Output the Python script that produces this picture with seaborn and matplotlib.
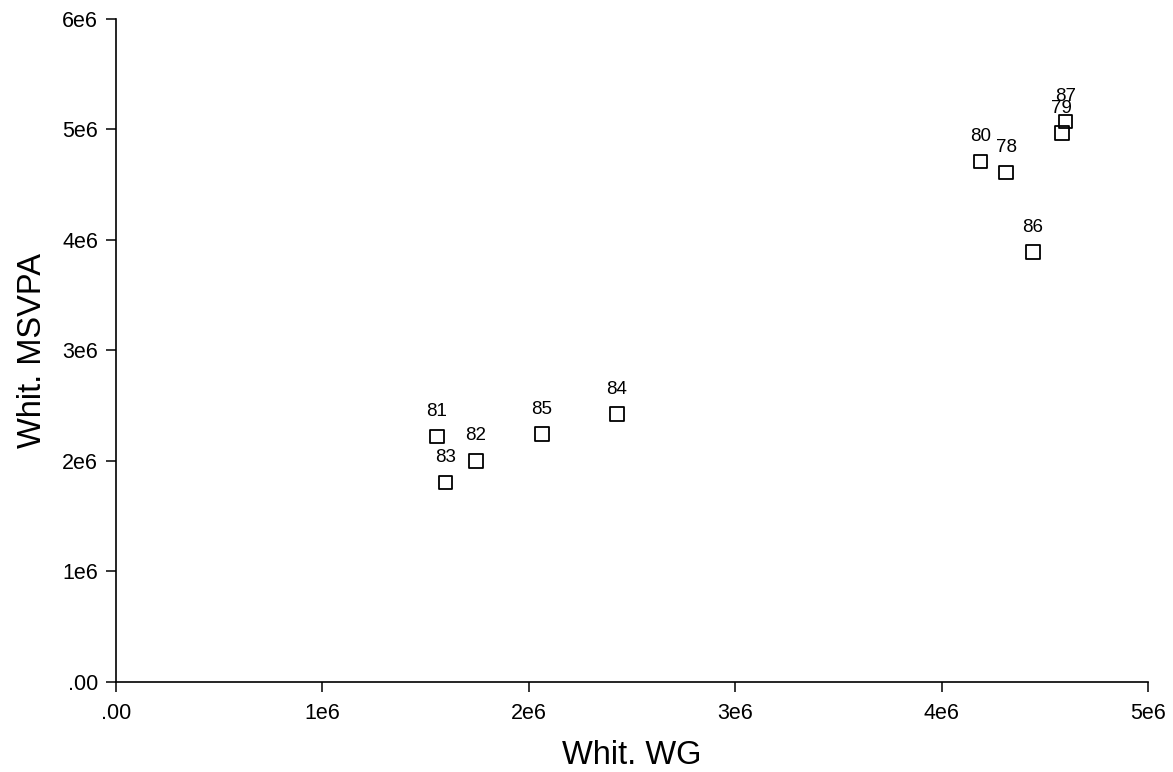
import numpy as np
import pandas as pd
import matplotlib
matplotlib.use("Agg")
import matplotlib.pyplot as plt
import seaborn as sns

# Whitney estimates: WG vs MSVPA, by year
years = ["81", "82", "83", "85", "84", "80", "78", "87", "79", "86"]
whit_wg = [1.554e6, 1.744e6, 1.597e6, 2.064e6, 2.427e6,
           4.189e6, 4.313e6, 4.601e6, 4.582e6, 4.443e6]
whit_msvpa = [2.220e6, 2.000e6, 1.807e6, 2.244e6, 2.423e6,
              4.709e6, 4.609e6, 5.071e6, 4.966e6, 3.889e6]

x_ticks = [0, 1e6, 2e6, 3e6, 4e6, 5e6]
x_ticklabels = [".00", "1e6", "2e6", "3e6", "4e6", "5e6"]
y_ticks = [0, 1e6, 2e6, 3e6, 4e6, 5e6, 6e6]
y_ticklabels = [".00", "1e6", "2e6", "3e6", "4e6", "5e6", "6e6"]

df = pd.DataFrame({"year": years, "wg": whit_wg, "msvpa": whit_msvpa})

sns.set_style("ticks")
plt.rcParams["font.family"] = ["Liberation Sans", "DejaVu Sans"]

fig = plt.figure(figsize=(11.73, 7.72), dpi=100)
ax = fig.add_axes([0.0989, 0.1166, 0.8798, 0.8588])

sns.scatterplot(data=df, x="wg", y="msvpa", marker="s", s=95,
                facecolor="none", edgecolor="black", linewidth=1.3, ax=ax)

for _, row in df.iterrows():
    ax.annotate(row["year"], (row["wg"], row["msvpa"]), xytext=(0, 18),
                textcoords="offset points", ha="center", va="center",
                fontsize=13.5, color="black")

ax.set_xlim(0, 5e6)
ax.set_ylim(0, 6e6)
ax.set_xticks(x_ticks)
ax.set_xticklabels(x_ticklabels)
ax.set_yticks(y_ticks)
ax.set_yticklabels(y_ticklabels)
ax.tick_params(axis="both", direction="out", length=7, width=1.1,
               labelsize=15.5, color="black", labelcolor="black")
ax.tick_params(axis="x", pad=8)
ax.tick_params(axis="y", pad=6)

sns.despine(ax=ax)
for side in ["left", "bottom"]:
    ax.spines[side].set_linewidth(1.2)
    ax.spines[side].set_color("black")

ax.set_xlabel("Whit. WG", fontsize=23.5, labelpad=12, color="black")
ax.set_ylabel("Whit. MSVPA", fontsize=23.5, labelpad=10, color="black")

fig.savefig("out.png", dpi=100)
